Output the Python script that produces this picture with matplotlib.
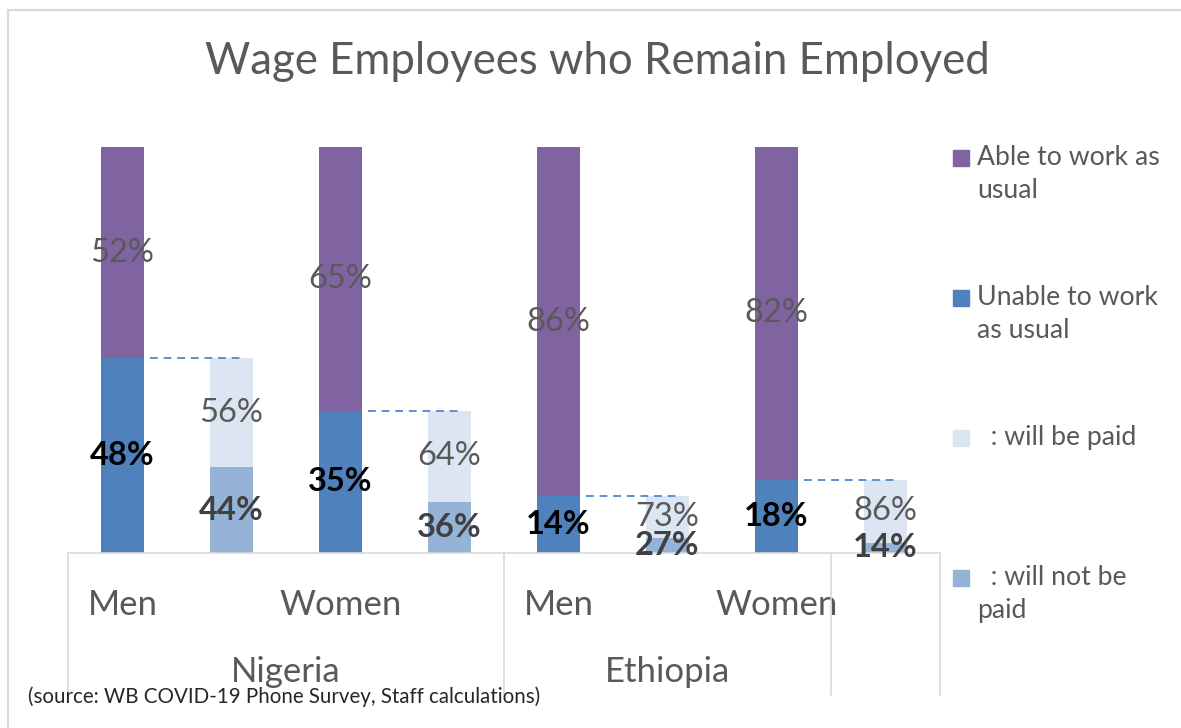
import numpy as np
import matplotlib
matplotlib.use("Agg")
import matplotlib.pyplot as plt
from matplotlib.patches import Rectangle

plt.rcParams['font.family'] = ['Lato', 'DejaVu Sans']

# data
countries = ["Nigeria", "Ethiopia"]
sexes = ["Men", "Women", "Men", "Women"]
able = [52, 65, 86, 82]
unable = [48, 35, 14, 18]
paid_share = [56, 64, 73, 86]
not_paid_share = [44, 36, 27, 14]

legend_labels = ["Able to work as\nusual", "Unable to work\nas usual",
                 "  : will be paid", "  : will not be\npaid"]

c_able = "#8064A2"
c_unable = "#4F81BD"
c_paid = "#DCE6F2"
c_notpaid = "#95B3D7"
grey = "#595959"

W, H = 1181, 728
fig = plt.figure(figsize=(W / 100, H / 100), dpi=100)
ax = fig.add_axes([68 / W, 1 - 553 / H, (940 - 68) / W, (553 - 147) / H])

unable = np.array(unable, dtype=float)
able = np.array(able, dtype=float)
paid_h = unable * np.array(paid_share) / 100
notpaid_h = unable * np.array(not_paid_share) / 100

x_main = np.arange(4) * 2
x_sub = x_main + 1
bw = 0.4

ax.bar(x_main, unable, bw, color=c_unable, zorder=2)
ax.bar(x_main, able, bw, bottom=unable, color=c_able, zorder=2)
ax.bar(x_sub, notpaid_h, bw, color=c_notpaid, zorder=2)
ax.bar(x_sub, paid_h, bw, bottom=notpaid_h, color=c_paid, zorder=2)

lab_fs = 23.5
for i in range(4):
    xm, xs = x_main[i], x_sub[i]
    ax.text(xm, unable[i] + able[i] / 2, f"{able[i]:.0f}%", ha="center", va="center",
            fontsize=lab_fs, color=grey, zorder=4)
    ax.text(xm, unable[i] / 2, f"{unable[i]:.0f}%", ha="center", va="center",
            fontsize=lab_fs, color="black", fontweight="bold", zorder=4)
    ax.text(xs, notpaid_h[i] + paid_h[i] / 2, f"{paid_share[i]}%", ha="center", va="center",
            fontsize=lab_fs, color=grey, zorder=4)
    ax.text(xs, notpaid_h[i] / 2, f"{not_paid_share[i]}%", ha="center", va="center",
            fontsize=lab_fs, color="#404040", fontweight="bold", zorder=4)
    # series line
    ax.plot([xm + bw / 2 + 0.05, xs + 0.1], [unable[i], unable[i]], ls=(0, (4, 3)),
            color="#5B8FD0", lw=1.4, zorder=3)

ax.set_xlim(-0.5, 7.5)
ax.set_ylim(0, 100)
ax.set_yticks([])
for s in ["top", "right", "left"]:
    ax.spines[s].set_visible(False)
ax.spines["bottom"].set_color("#D9D9D9")
ax.spines["bottom"].set_linewidth(1.2)

ax.set_xticks(x_main)
ax.set_xticklabels(sexes, fontsize=25, color=grey)
ax.tick_params(axis="x", length=0, pad=26)

# group separators and country labels
tr = ax.get_xaxis_transform()
y_low = (553 - 695) / (553 - 147)
for xb in [-0.5, 3.5, 6.5, 7.5]:
    ax.plot([xb, xb], [0, y_low], transform=tr, color="#D9D9D9", lw=1.2, clip_on=False)
y_grp = (553 - 672) / (553 - 147)
ax.text(1.5, y_grp, countries[0], transform=tr, ha="center", va="center", fontsize=25, color=grey)
ax.text(5.0, y_grp, countries[1], transform=tr, ha="center", va="center", fontsize=25, color=grey)

# title
fig.text(597 / W, 1 - 61 / H, "Wage Employees who Remain Employed", ha="center", va="center",
         fontsize=31.5, color=grey)

# legend
leg_colors = [c_able, c_unable, c_paid, c_notpaid]
leg_y = [158, 298, 438, 578]
for col, lab, yy in zip(leg_colors, legend_labels, leg_y):
    fig.patches.append(Rectangle((953 / W, 1 - (yy + 8) / H), 16 / W, 16 / H,
                                 transform=fig.transFigure, color=col))
    fig.text(977 / W, 1 - (yy - 13) / H, lab, ha="left", va="top", fontsize=19.2,
             color=grey, linespacing=1.42)

# source
fig.text(28 / W, 1 - 697 / H, "(source: WB COVID-19 Phone Survey, Staff calculations)",
         ha="left", va="center", fontsize=14.8, color="#262626")

# chart border
fig.patches.append(Rectangle((8 / W, -0.1), 1.2, 1.1 - 10 / H, transform=fig.transFigure,
                             fill=False, edgecolor="#D9D9D9", lw=1.5))

fig.savefig("out.png", dpi=100)
